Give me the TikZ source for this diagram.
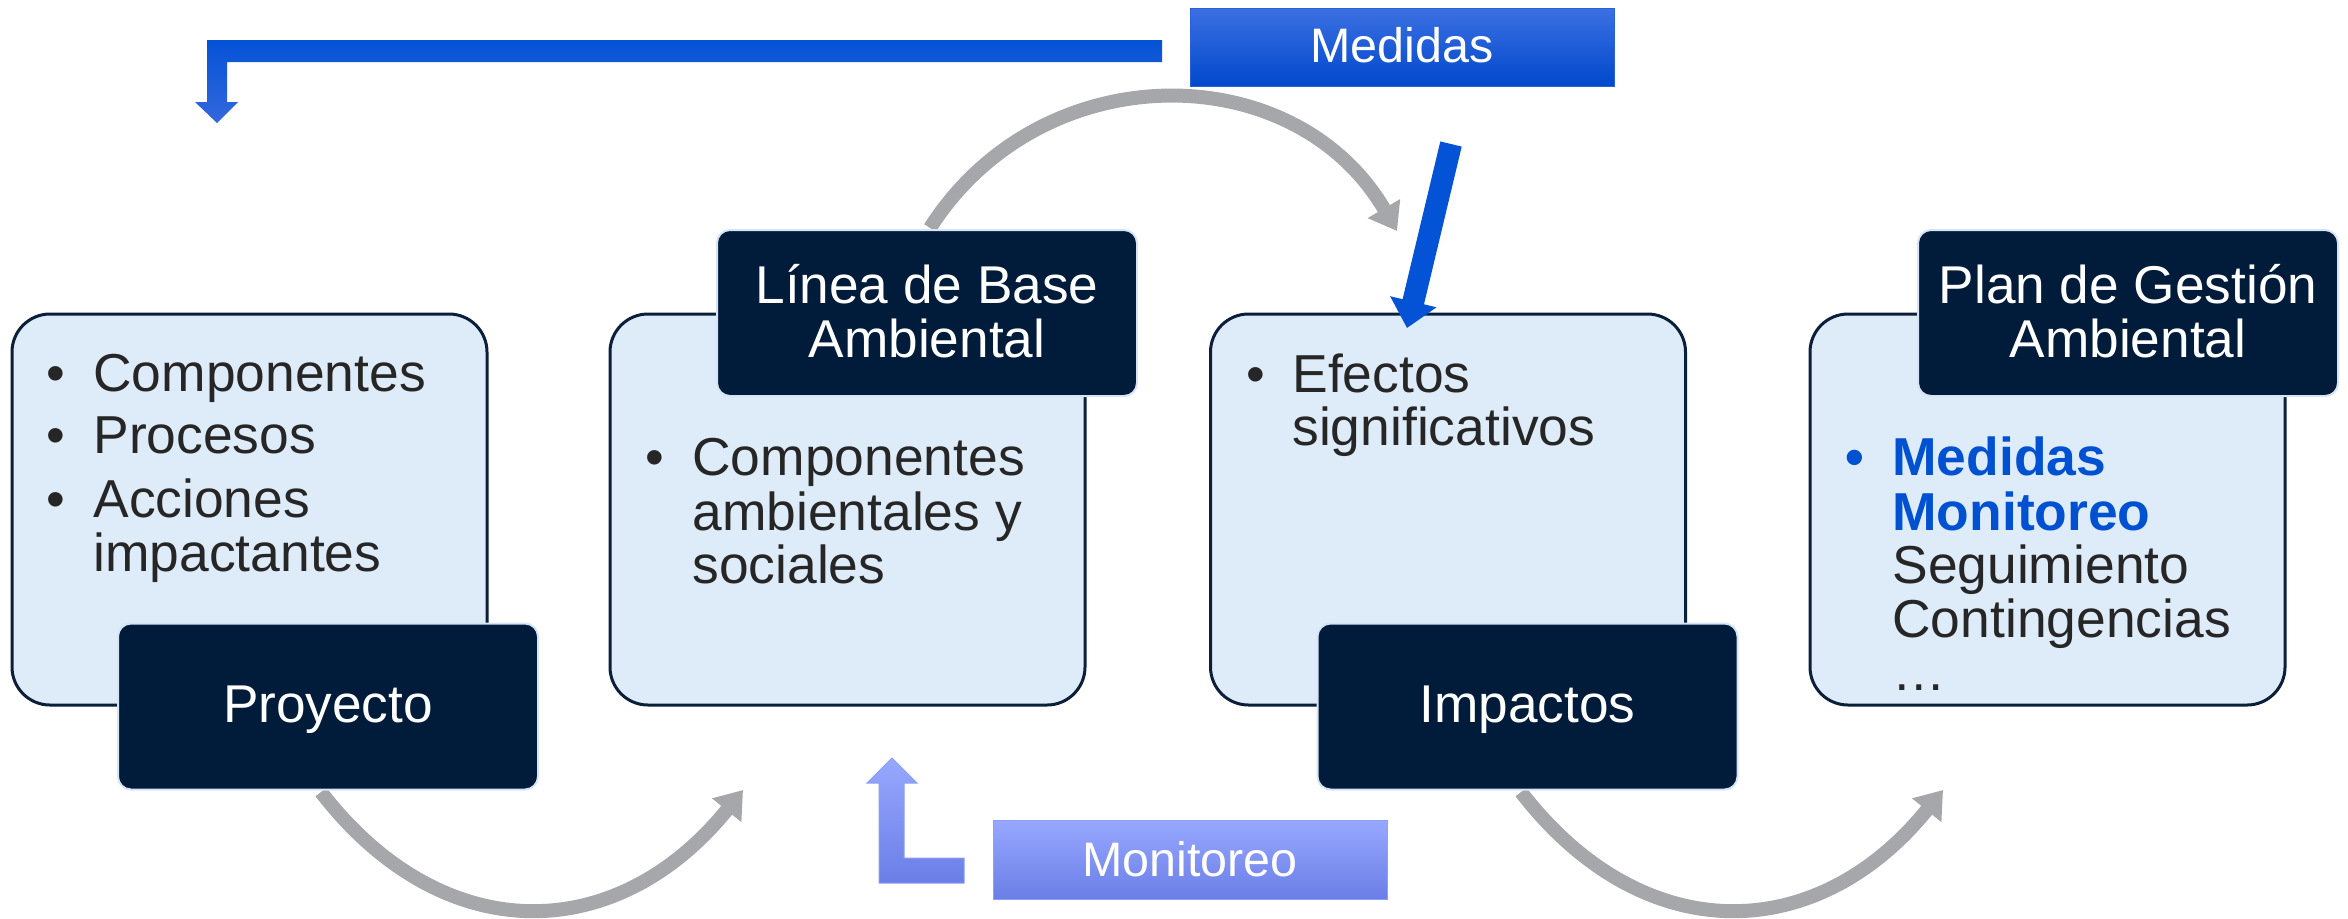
\documentclass[tikz,border=0pt]{standalone}
\usepackage{fontspec}
\setmainfont{Liberation Sans}
\usetikzlibrary{arrows.meta}
\definecolor{lightfill}{RGB}{222,235,248}
\definecolor{boxborder}{RGB}{11,30,58}
\definecolor{darknavy}{RGB}{1,28,58}
\definecolor{darkedge}{RGB}{214,228,245}
\definecolor{arcgray}{RGB}{166,167,171}
\definecolor{textgray}{RGB}{38,38,38}
\definecolor{boldblue}{RGB}{0,80,210}
\definecolor{medtop}{RGB}{60,112,226}
\definecolor{medbot}{RGB}{0,72,204}
\definecolor{arrowblue}{RGB}{4,82,214}
\definecolor{montop}{RGB}{152,168,255}
\definecolor{monbot}{RGB}{106,126,230}
\definecolor{monedge}{RGB}{140,158,245}
\begin{document}
\begin{tikzpicture}[x=0.5pt,y=-0.5pt,
  lightbox/.style={draw=boxborder, line width=1.5pt, fill=lightfill, rounded corners=19pt,
    minimum width=237.5pt, minimum height=195.5pt, inner sep=0pt},
  darkbox/.style={draw=darkedge, line width=1pt, fill=darknavy, rounded corners=6.5pt,
    minimum width=210pt, minimum height=83pt, inner sep=0pt},
  bodytxt/.style={anchor=base west, inner sep=0pt, text=textgray, font=\fontsize{26.7}{30}\selectfont},
  bluetxt/.style={anchor=base west, inner sep=0pt, text=boldblue, font=\fontsize{26.7}{30}\selectfont\bfseries},
  labeltxt/.style={anchor=base, inner sep=0pt, text=white, font=\fontsize{26.6}{30}\selectfont},
  smalllabel/.style={anchor=base, inner sep=0pt, text=white, font=\fontsize{24.2}{28}\selectfont},
  grayarc/.style={draw=arcgray, line width=7pt, -{Triangle[length=13pt,width=18pt]}},
  bluearrow/.style={draw=arrowblue, line width=11pt, -{Triangle[length=13.5pt,width=23pt]}}
]
\useasboundingbox (0,0) rectangle (2348,918);

% gray curved arrows
\coordinate (a1s) at (930,228);
\coordinate (a1e) at (1397,231);
\draw[grayarc] (a1s) .. controls (1041,54) and (1294,55) .. (a1e);
\coordinate (a2s) at (321,792);
\coordinate (a2e) at (743,790);
\draw[grayarc] (a2s) .. controls (443,950) and (617,946) .. (a2e);
\coordinate (a3s) at (1521,792);
\coordinate (a3e) at (1943,790);
\draw[grayarc] (a3s) .. controls (1643,950) and (1817,946) .. (a3e);

% light boxes
\node[lightbox] (box1) at (249.5,509.5) {};
\node[lightbox] (box2) at (847.5,509.5) {};
\node[lightbox] (box3) at (1448,509.5) {};
\node[lightbox] (box4) at (2047.5,509.5) {};

% top bent arrow (Medidas -> Proyecto)
\path[top color=arrowblue, bottom color={rgb,255:red,52;green,104;blue,222}]
  (1162,40) -- (207,40) -- (207,102) -- (195,102) -- (217,123) -- (238,102)
  -- (227,102) -- (227,62) -- (1162,62) -- cycle;

% diagonal blue arrow
\coordinate (dA) at (1451,144);
\coordinate (dB) at (1407,328);
\draw[bluearrow] (dA) -- (dB);

% Monitoreo L arrow
\path[draw=monedge, line width=0.5pt, top color=montop, bottom color=monbot]
  (964,858) -- (964,883) -- (879,883) -- (879,783) -- (867,783) -- (892,758)
  -- (917,783) -- (904,783) -- (904,858) -- cycle;

% label boxes
\node[draw={rgb,255:red,40;green,96;blue,216}, line width=0.5pt, top color=medtop, bottom color=medbot,
  minimum width=212pt, minimum height=39pt, inner sep=0pt] (medbox) at (1402,47) {};
\node[smalllabel] (medtxt) at (1402,62) {Medidas};
\node[draw=monedge, line width=0.5pt, top color=montop, bottom color=monbot,
  minimum width=197pt, minimum height=39.5pt, inner sep=0pt] (monbox) at (1190,859.5) {};
\node[smalllabel] (montxt) at (1190,876) {Monitoreo};

% dark boxes
\node[darkbox] (proy) at (328,706.5) {};
\node[darkbox] (linea) at (927,313) {};
\node[darkbox] (impa) at (1527.5,706.5) {};
\node[darkbox] (plan) at (2128,313) {};

\node[labeltxt] (proyT) at (328,722) {Proyecto};
\node[labeltxt] (lineaT1) at (927,303) {Línea de Base};
\node[labeltxt] (lineaT2) at (927,357) {Ambiental};
\node[labeltxt] (impaT) at (1527.5,722) {Impactos};
\node[labeltxt] (planT1) at (2128,303) {Plan de Gestión};
\node[labeltxt] (planT2) at (2128,357) {Ambiental};

% box 1 text
\node[bodytxt] (b1a) at (46,391) {•};
\node[bodytxt] (b1b) at (46,453) {•};
\node[bodytxt] (b1c) at (46,517) {•};
\node[bodytxt] (t1a) at (93,391) {Componentes};
\node[bodytxt] (t1b) at (93,453) {Procesos};
\node[bodytxt] (t1c) at (93,517) {Acciones};
\node[bodytxt] (t1d) at (93,571) {impactantes};

% box 2 text
\node[bodytxt] (b2a) at (645,475) {•};
\node[bodytxt] (t2a) at (692,475) {Componentes};
\node[bodytxt] (t2b) at (692,530) {ambientales y};
\node[bodytxt] (t2c) at (692,583) {sociales};

% box 3 text
\node[bodytxt] (b3a) at (1246,392) {•};
\node[bodytxt] (t3a) at (1292,392) {Efectos};
\node[bodytxt] (t3b) at (1292,445) {significativos};

% box 4 text
\node[bluetxt] (b4a) at (1845,475) {•};
\node[bluetxt] (t4a) at (1892,475) {Medidas};
\node[bluetxt] (t4b) at (1892,530) {Monitoreo};
\node[bodytxt] (t4c) at (1892,583) {Seguimiento};
\node[bodytxt] (t4d) at (1892,637) {Contingencias};
\node[bodytxt] (t4e) at (1892,690) {…};
\end{tikzpicture}
\end{document}
